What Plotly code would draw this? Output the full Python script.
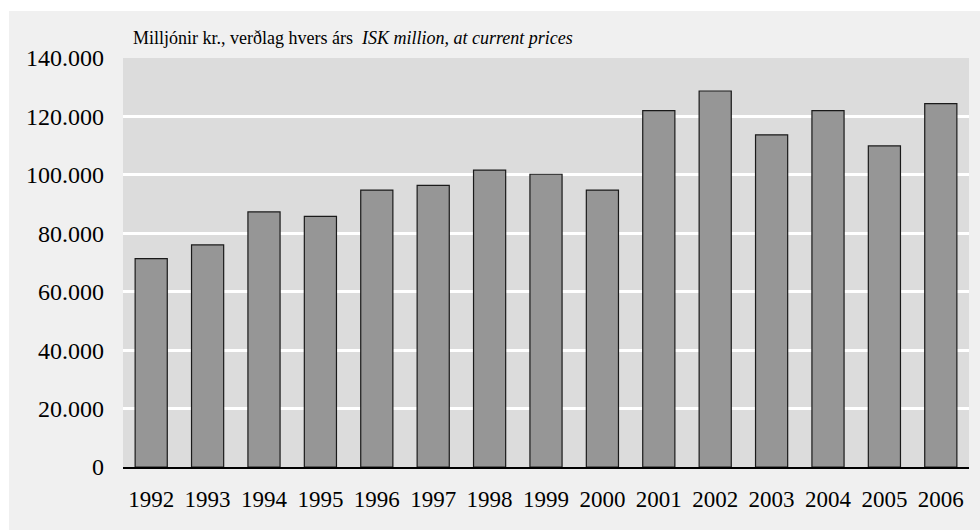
import plotly.graph_objects as go

years = [str(y) for y in range(1992, 2007)]
values = [71300, 76000, 87300, 85800, 94800, 96400, 101600, 100200, 94800,
          122000, 128700, 113700, 122000, 109900, 124400]
y_ticks = [0, 20000, 40000, 60000, 80000, 100000, 120000, 140000]
y_ticktext = ["0", "20.000", "40.000", "60.000", "80.000", "100.000", "120.000", "140.000"]

W, H = 980, 530
L, R, T, B = 123, 11, 58, 63
PW, PH = W - L - R, H - T - B
FONT = dict(family="Liberation Serif, Times New Roman, serif", color="#000000")


def px_x(x):
    return (x - L) / PW


def px_y(y):
    return (H - B - y) / PH


fig = go.Figure(go.Bar(
    x=years, y=values,
    marker=dict(color="#969696", line=dict(color="#1a1a1a", width=1.2)),
    width=0.57,
))

fig.update_layout(
    width=W, height=H,
    margin=dict(l=L, r=R, t=T, b=B),
    paper_bgcolor="#f0f0f0", plot_bgcolor="#dcdcdc",
    font=dict(size=23, **FONT),
    showlegend=False,
    xaxis=dict(showgrid=False, showline=True, linecolor="#000000", linewidth=1.5,
               ticks="", ticklabelstandoff=11, tickfont=dict(size=23),
               range=[-0.5, 14.5]),
    yaxis=dict(range=[0, 140000], tickvals=y_ticks, ticktext=y_ticktext,
               gridcolor="#ffffff", gridwidth=2.5, zeroline=False,
               ticks="", ticklabelstandoff=18, tickfont=dict(size=24)),
    shapes=[
        # white strips outside the panel
        dict(type="rect", xref="paper", yref="paper",
             x0=px_x(0), x1=px_x(W), y0=px_y(11), y1=px_y(0),
             fillcolor="#ffffff", line=dict(width=0)),
        dict(type="rect", xref="paper", yref="paper",
             x0=px_x(0), x1=px_x(9), y0=px_y(H), y1=px_y(0),
             fillcolor="#ffffff", line=dict(width=0)),
    ],
    annotations=[dict(
        text="Milljónir kr., verðlag hvers árs  <i>ISK million, at current prices</i>",
        xref="paper", yref="paper", x=px_x(131), y=px_y(38),
        xanchor="left", yanchor="middle", showarrow=False,
        font=dict(size=18, **FONT),
    )],
)

fig.write_html("out.html", config={"displayModeBar": False},
               post_script="document.body.style.margin='0';")
